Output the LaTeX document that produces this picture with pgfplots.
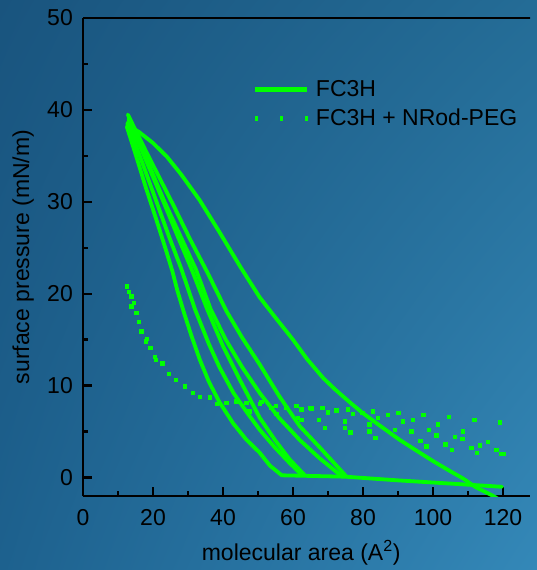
\documentclass[border=0pt]{standalone}
\usepackage{pgfplots}
\pgfplotsset{compat=1.18}
\usepackage{fontspec}
\setmainfont{Liberation Sans}
\usetikzlibrary{shadings}
\definecolor{gr}{RGB}{0,255,0}
\definecolor{bgUL}{RGB}{25,84,126}
\definecolor{bgUR}{RGB}{36,108,150}
\definecolor{bgLL}{RGB}{29,97,142}
\definecolor{bgLR}{RGB}{52,136,184}
\newcommand{\fs}{\fontsize{23bp}{27bp}\selectfont}
\begin{document}
\begin{tikzpicture}
\path[use as bounding box] (0,0) rectangle (537bp,570bp);
\shade[upper left=bgUL, upper right=bgUR, lower left=bgLL, lower right=bgLR] (0,0) rectangle (537bp,570bp);
\begin{axis}[
  at={(83bp,74bp)}, anchor=south west,
  scale only axis, width=447bp, height=478bp,
  xmin=0, xmax=127.7, ymin=-2, ymax=50,
  axis x line=bottom, axis y line=left,
  axis line style={-, line width=2.5bp, black},
  xtick={0,20,...,120}, minor xtick={10,30,...,110},
  ytick={0,10,...,50}, minor ytick={5,15,...,45},
  tick align=inside, major tick length=9bp, minor tick length=5bp,
  every major tick/.style={black, line width=2.5bp},
  every minor tick/.style={black, line width=2.5bp},
  tick label style={font=\fs, black},
  /pgf/number format/assume math mode=true,
  xticklabel style={inner sep=0pt, yshift=-13bp},
  yticklabel style={inner sep=0pt, xshift=-10bp},
  xlabel={molecular area (A\textsuperscript{2})},
  xlabel style={font=\fs, at={(axis description cs:0.488,-0.119)}, anchor=center},
  ylabel={surface pressure (mN/m)},
  ylabel style={font=\fs, at={(axis description cs:-0.134,0.5)}, anchor=center},
  legend style={draw=none, fill=none, font=\fs, at={(axis cs:48.5,43.2)}, anchor=north west,
    inner sep=0pt, nodes={inner sep=0pt}, column sep=5bp, row sep=11bp},
  legend cell align=left,
  iso/.style={draw=gr, line width=3.8bp, line join=round, line cap=round, mark=none},
]
% FC3H outer compression curve
\addplot[iso, legend image code/.code={\draw[gr, line width=5bp, line cap=butt] (0bp,0bp) -- (52bp,0bp);}] coordinates {
(118.5,-2.3)(117.2,-2.0)(112,-1.0)(108.6,-0.1)(104,0.9)(100,1.8)(95,3.0)(90.5,4.1)(85,5.6)(80,7.0)(76.2,8.2)(72,9.6)(68.7,10.8)(64,12.9)(60,15.0)(55,17.4)(50.5,19.6)(45,22.9)(39,26.7)(33.3,30.2)(28,33.0)(24,34.9)(20,36.4)(16,37.6)(12.6,38.4)};
\addlegendentry{FC3H}
\addplot[gr, only marks, mark=square*, mark size=1.7bp, mark options={solid, draw=gr, fill=gr, line width=0pt},
  legend image code/.code={\draw[gr, line width=5bp, line cap=butt, dash pattern=on 3bp off 22bp] (0bp,0bp) -- (53bp,0bp);}] coordinates {
(12.6,20.8)(13.2,20.2)(13.8,19.7)(14.5,19.0)(13.8,18.6)(15.3,17.9)(16,16.9)(16.7,15.9)(18.3,15.1)(18.0,14.8)(19.3,14.1)(20.5,13.1)(20.9,12.8)(22.7,12.4)(24.6,11.3)(26.5,10.6)(29.1,9.9)(31.4,9.2)(33.5,8.8)(36.2,8.7)(38.3,8.0)(41,8.1)(43.8,8.3)(46.7,8.1)(47.6,7.2)(50.5,8.0)(51,8.2)(53.8,7.6)(55.3,6.9)(55.2,7.8)(58.1,7.6)(61,7.8)(61.4,6.5)(62.4,7.4)(62.4,6.3)(64.8,7.6)(65.3,7.5)(67.4,6.3)(68.4,7.6)(69.1,5.4)(70,7.1)(72.4,7.3)(74.8,6.1)(74.8,5.4)(75.7,7.4)(76.4,4.9)(77.1,6.9)(79.8,7.0)(81.9,5.8)(81.9,5.0)(82.9,7.2)(83.6,4.3)(84.3,6.5)(87.1,6.8)(89.1,5.2)(90.1,7.0)(91.4,6.1)(93.8,5.0)(94.3,6.3)(96.4,4.0)(97.3,6.8)(98.1,3.4)(98.9,5.2)(101,4.6)(101.4,5.8)(103.6,3.6)(104.6,6.6)(105.5,3.0)(106.2,4.4)(108.4,4.2)(108.6,5.0)(111,3.2)(111.9,6.3)(112.6,2.7)(113.4,3.5)(115.7,3.9)(118.1,3.0)(119.2,6.0)(119.5,2.6)(120.2,2.6)};
\addlegendentry{FC3H + NRod-PEG}
% flat compression + innermost curve
\addplot[iso, forget plot] coordinates {
(119.7,-1.0)(105,-0.65)(90,-0.3)(75,0.1)(63,0.2)(56.8,0.25)(53.4,1.3)(50.5,2.7)(46.5,4.2)(42.9,5.9)(39,8.2)(36,10.4)(33.4,12.8)(31,15.4)(28.8,18.0)(27,20.3)(25.5,22.5)(23.5,25)(21,28.0)(18,31.5)(15,35.2)(12.5,38.2)};
\addplot[iso, forget plot] coordinates {
(12.7,38.6)(17,34.2)(21,30)(24.5,26.3)(28.1,22.7)(32,18.3)(36,14.5)(39,12)(43,9.2)(47,7)(50.5,5.2)(55,3.2)(59,1.6)(62.5,0.3)};
\addplot[iso, forget plot] coordinates {
(13,39)(18,34.5)(23,30)(27,26.3)(31.2,22.5)(35.5,18.3)(40,14.3)(45,10.5)(50.5,6.5)(55,4.0)(59,2.0)(63.5,0.2)};
\addplot[iso, forget plot] coordinates {
(13,39.3)(18,34.8)(23.3,30)(27.8,26.3)(32.2,22.7)(36.5,18.3)(40.8,15)(45.5,12)(50.5,9.2)(56,6.5)(61.9,4.1)(67.6,2.1)(74.1,0.1)};
\addplot[iso, forget plot] coordinates {
(12.8,39.5)(18,35.5)(22,32.5)(26,29.5)(30.5,26)(35.7,22.2)(41,18.1)(45.5,15.2)(50.5,12.3)(56,8.9)(61.9,5.6)(67.6,3.3)(75.3,0.1)};
\draw[black, line width=2.5bp] (rel axis cs:0,1) -- (rel axis cs:1.02,1);
\end{axis}
\end{tikzpicture}
\end{document}
